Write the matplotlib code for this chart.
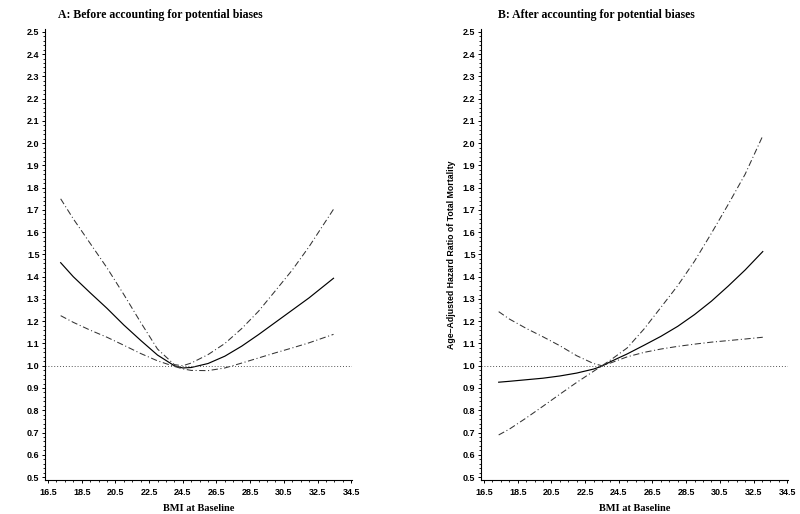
import matplotlib
matplotlib.use("Agg")
import matplotlib.pyplot as plt
from matplotlib.ticker import MultipleLocator

# Panel A: before accounting for potential biases
bmi_a = [17.25, 18, 19, 20, 21, 22, 23, 24, 24.5, 25, 26, 27, 28, 29, 30, 31, 32, 33.45]
hr_a = [1.463, 1.40, 1.328, 1.258, 1.183, 1.114, 1.048, 1.0, 0.99, 0.992, 1.01,
        1.043, 1.088, 1.14, 1.195, 1.25, 1.305, 1.393]
upper_a = [1.75, 1.66, 1.55, 1.44, 1.32, 1.195, 1.075, 1.005, 1.0, 1.012, 1.05,
           1.10, 1.167, 1.245, 1.337, 1.43, 1.535, 1.703]
lower_a = [1.225, 1.195, 1.16, 1.128, 1.092, 1.055, 1.022, 0.997, 0.986, 0.979, 0.978,
           0.99, 1.012, 1.035, 1.058, 1.08, 1.103, 1.141]

# Panel B: after accounting for potential biases
bmi_b = [17.37, 18, 19, 20, 21, 22, 23, 23.5, 24, 25, 26, 27, 28, 29, 30, 31, 32, 33.05]
hr_b = [0.926, 0.93, 0.937, 0.944, 0.954, 0.967, 0.985, 0.998, 1.018, 1.053, 1.092,
        1.132, 1.177, 1.23, 1.29, 1.358, 1.43, 1.513]
upper_b = [0.689, 0.715, 0.765, 0.818, 0.872, 0.925, 0.975, 1.0, 1.025, 1.08, 1.165,
           1.262, 1.36, 1.47, 1.595, 1.725, 1.86, 2.033]
lower_b = [1.243, 1.21, 1.168, 1.13, 1.09, 1.045, 1.01, 1.0, 1.012, 1.04, 1.06,
           1.075, 1.087, 1.097, 1.106, 1.113, 1.12, 1.128]

titles = ["A: Before accounting for potential biases", "B: After accounting for potential biases"]
xticks = [16.5, 18.5, 20.5, 22.5, 24.5, 26.5, 28.5, 30.5, 32.5, 34.5]

fig = plt.figure(figsize=(8, 5.14), dpi=100)
ax_a = fig.add_axes([0.05625, 0.0661, 0.384, 0.8775])
ax_b = fig.add_axes([0.60125, 0.0661, 0.384, 0.8775])

dashdot = (0, (6, 2.5, 1, 2.5))
panels = [(ax_a, bmi_a, hr_a, upper_a, lower_a), (ax_b, bmi_b, hr_b, upper_b, lower_b)]
for ax, x, hr, up, lo in panels:
    ax.plot(x, hr, color="black", lw=0.85)
    ax.plot(x, up, color="#333333", lw=0.75, linestyle=dashdot)
    ax.plot(x, lo, color="#333333", lw=0.75, linestyle=dashdot)
    ax.axhline(1.0, color="#555555", lw=0.7, linestyle=(0, (1, 2)))

    ax.set_xlim(16.32, 34.56)
    ax.set_ylim(0.4865, 2.513)
    ax.set_xticks(xticks)
    ax.set_xticklabels([f"{t:.1f}" for t in xticks])
    ax.xaxis.set_minor_locator(MultipleLocator(0.5))
    ax.set_yticks([0.5 + 0.1 * i for i in range(21)])
    ax.set_yticklabels([f"{0.5 + 0.1 * i:.1f}" for i in range(21)])
    ax.yaxis.set_minor_locator(MultipleLocator(0.02))
    for s in ["top", "right"]:
        ax.spines[s].set_visible(False)
    for s in ["left", "bottom"]:
        ax.spines[s].set_linewidth(0.8)
    ax.tick_params(which="major", length=2.5, width=0.7, pad=1.5, direction="out")
    ax.tick_params(which="minor", length=1.3, width=0.6, direction="out")
    ax.tick_params(axis="x", which="major", pad=3)
    for lab in ax.get_xticklabels() + ax.get_yticklabels():
        lab.set_fontfamily("Liberation Sans")
        lab.set_fontweight("bold")
        lab.set_fontsize(6.5)
    ax.set_xlabel("BMI at Baseline", family="Liberation Serif", fontweight="bold",
                  fontsize=7.5, labelpad=5)

ax_b.set_ylabel("Age\u2013Adjusted Hazard Ratio of Total Mortality", family="Liberation Sans",
                fontweight="bold", fontsize=6.3, labelpad=5)

fig.text(0.2, 1 - 15 / 514, titles[0], ha="center", va="center",
         family="Liberation Serif", fontweight="bold", fontsize=8.5)
fig.text(0.745, 1 - 15 / 514, titles[1], ha="center", va="center",
         family="Liberation Serif", fontweight="bold", fontsize=8.5)

fig.savefig("out.png", dpi=100)
